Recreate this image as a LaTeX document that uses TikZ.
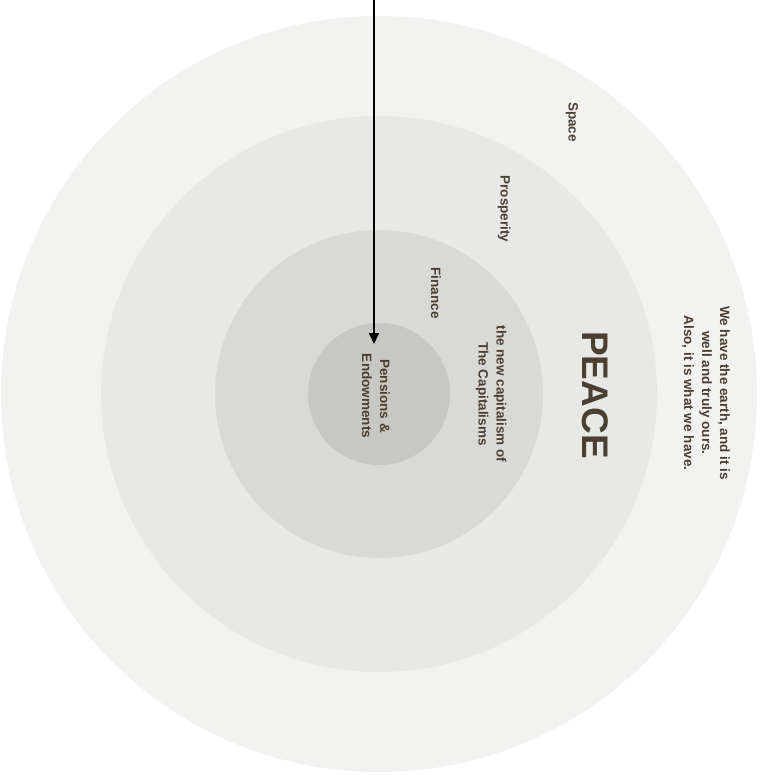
\documentclass[tikz,border=0pt]{standalone}
\usepackage{fontspec}
\setmainfont{Liberation Sans}
\usetikzlibrary{arrows.meta}
\definecolor{ringA}{HTML}{F2F2F1}
\definecolor{ringB}{HTML}{E8E8E6}
\definecolor{ringC}{HTML}{D9D9D6}
\definecolor{ringD}{HTML}{C8C8C2}
\definecolor{ink}{HTML}{4A3F30}
\begin{document}
\begin{tikzpicture}[x=1pt,y=-1pt,
  ring/.style={circle,draw=none,inner sep=0pt},
  label/.style={text=ink,font=\bfseries\fontsize{13.5}{18}\selectfont,rotate=-90,align=center,inner sep=0pt}]
\useasboundingbox (0,0) rectangle (765,775);
% concentric rings
\node[ring,fill=ringA,minimum size=756] (outer) at (379,394) {};
\node[ring,fill=ringB,minimum size=556] (second) at (379,394) {};
\node[ring,fill=ringC,minimum size=328] (third) at (379,394) {};
\node[ring,fill=ringD,minimum size=142] (inner) at (379,394) {};
% ring labels
\node[label] (space) at (572,122) {Space};
\node[label] (prosperity) at (504,209) {Prosperity};
\node[label] (finance) at (436,293) {Finance};
\node[label] (pensions) at (376,396) {Pensions \&\\Endowments};
\node[label] (capital) at (491,394) {the new capitalism of\\The Capitalisms};
\node[label,font=\bfseries\fontsize{37}{40}\selectfont] (peace) at (595,395) {PEACE};
\node[label] (earth) at (706,393) {We have the earth, and it is\\well and truly ours.\\Also, it is what we have.};
% incoming arrow
\coordinate (top) at (374,0);
\coordinate (tip) at (374,344);
\draw[line width=2pt,-{Triangle[length=11pt,width=10pt]}] (top) -- (tip);
\end{tikzpicture}
\end{document}
